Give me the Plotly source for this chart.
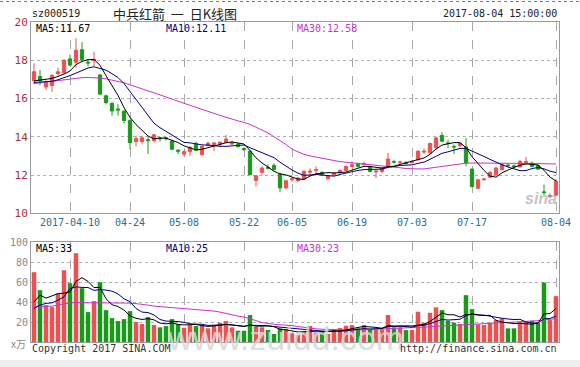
import pandas as pd
import plotly.graph_objects as go

# ---------------- data ----------------
holidays = ["2017-04-03", "2017-04-04", "2017-05-01", "2017-05-29", "2017-05-30"]
dates = [d.strftime("%Y-%m-%d") for d in pd.bdate_range("2017-03-29", "2017-08-04")
         if d.strftime("%Y-%m-%d") not in holidays]

opens = [16.93, 17.15, 16.60, 16.68, 17.30, 17.35, 18.07, 17.90, 18.55, 17.90,
         17.98, 17.23, 16.14, 15.75, 15.45, 15.33, 14.85, 13.75, 13.75, 13.85,
         13.80, 13.95, 13.95, 13.77, 13.30, 13.10, 13.22, 13.63, 13.07, 13.56,
         13.58, 13.62, 13.70, 13.62, 13.62, 13.38, 13.25, 11.72, 12.14, 12.40,
         12.50, 12.05, 11.33, 11.75, 11.70, 11.79, 12.15, 12.25, 12.14, 11.80,
         12.01, 12.14, 12.24, 12.45, 12.59, 12.55, 12.45, 12.17, 12.19, 12.45,
         12.70, 12.65, 12.66, 12.66, 12.80, 13.20, 13.16, 13.42, 14.07, 13.68,
         13.50, 13.54, 13.47, 12.31, 11.31, 11.76, 11.89, 12.01, 12.28, 12.52,
         12.48, 12.42, 12.65, 12.63, 12.50, 11.12, 10.88, 10.95]
highs = [17.85, 17.50, 16.95, 17.30, 17.60, 18.05, 18.30, 19.15, 18.95, 18.07,
         18.45, 17.30, 16.20, 15.80, 15.70, 15.40, 14.90, 14.05, 14.05, 14.00,
         14.15, 14.00, 14.00, 13.85, 13.35, 13.30, 13.50, 13.75, 13.55, 13.75,
         13.72, 13.75, 14.10, 13.80, 13.68, 13.45, 13.30, 12.00, 12.45, 12.55,
         12.62, 12.12, 11.72, 11.90, 11.90, 12.25, 12.35, 12.45, 12.20, 12.00,
         12.15, 12.30, 12.50, 12.72, 12.65, 12.70, 12.50, 12.25, 12.40, 13.16,
         12.80, 12.75, 12.72, 12.80, 13.30, 13.40, 13.70, 14.00, 14.24, 13.85,
         13.60, 13.70, 13.94, 12.35, 11.80, 11.85, 12.20, 12.40, 12.60, 12.60,
         12.55, 12.80, 12.95, 12.70, 12.55, 11.50, 11.05, 11.80]
lows = [16.75, 16.70, 16.45, 16.35, 17.20, 17.30, 17.70, 17.60, 17.90, 17.68,
        17.70, 16.20, 15.70, 15.10, 15.10, 14.70, 13.35, 13.50, 13.60, 13.10,
        13.70, 13.75, 13.80, 13.30, 13.10, 13.00, 13.00, 13.25, 13.00, 13.50,
        13.25, 13.45, 13.68, 13.58, 13.45, 13.25, 12.00, 11.40, 12.00, 12.30,
        12.25, 11.10, 11.25, 11.65, 11.65, 11.75, 11.95, 12.00, 11.95, 11.75,
        11.95, 12.05, 12.20, 12.40, 12.40, 12.50, 12.15, 11.84, 12.10, 12.40,
        12.60, 12.55, 12.55, 12.60, 12.75, 13.10, 13.10, 13.40, 13.70, 13.40,
        13.10, 13.45, 12.45, 11.35, 11.25, 11.70, 11.85, 11.98, 12.25, 12.40,
        12.35, 12.40, 12.60, 12.40, 12.25, 10.95, 10.80, 10.90]
closes = [17.40, 16.93, 16.85, 17.20, 17.40, 18.00, 17.75, 18.52, 18.03, 17.86,
          18.05, 16.23, 15.79, 15.35, 15.40, 14.85, 13.70, 13.90, 13.95, 13.80,
          14.10, 13.90, 13.90, 13.35, 13.25, 13.22, 13.45, 13.30, 13.50, 13.66,
          13.68, 13.72, 13.88, 13.70, 13.48, 13.33, 12.02, 11.96, 12.37, 12.36,
          12.28, 11.33, 11.70, 11.80, 11.84, 12.19, 12.20, 12.28, 12.01, 11.96,
          12.10, 12.24, 12.45, 12.54, 12.45, 12.60, 12.19, 12.21, 12.37, 12.84,
          12.68, 12.68, 12.60, 12.70, 13.24, 13.24, 13.65, 13.94, 13.77, 13.65,
          13.47, 13.65, 12.63, 11.40, 11.75, 11.79, 12.14, 12.37, 12.54, 12.49,
          12.45, 12.71, 12.70, 12.45, 12.31, 11.08, 10.92, 11.68]
volumes = [70, 52, 37, 35, 48.7, 72, 59, 89, 54, 30,
           41, 60, 32, 24, 21, 23, 31, 20, 18, 25,
           17, 14.7, 16, 23, 17.7, 14.3, 17, 16, 17, 13.7,
           17, 19.3, 21, 14.7, 11.3, 11.3, 27, 15.3, 14.7, 12,
           8, 13.7, 12.7, 8.7, 7, 10, 16, 9, 11, 8,
           12, 14, 16.3, 17, 13.7, 17, 12.7, 12.7, 12.7, 27,
           14.7, 14.7, 12, 12, 30.3, 19.3, 29.3, 34.7, 32, 21.3,
           19.3, 18, 47, 33, 17.7, 17, 19.3, 22, 23.7, 13.7,
           13.7, 20.3, 20.3, 21.3, 19.3, 59.7, 22, 46]
ma30_price = [16.78, 16.82, 16.85, 16.90, 16.95, 16.98, 17.02, 17.06, 17.09, 17.10,
              17.10, 17.07, 17.03, 16.97, 16.90, 16.82, 16.72, 16.60, 16.50, 16.40,
              16.30, 16.20, 16.08, 15.97, 15.86, 15.75, 15.64, 15.54, 15.44, 15.33,
              15.23, 15.12, 15.02, 14.91, 14.83, 14.75, 14.65, 14.50, 14.35, 14.20,
              14.00, 13.80, 13.60, 13.35, 13.20, 13.08, 13.00, 12.94, 12.87, 12.80,
              12.75, 12.70, 12.67, 12.64, 12.62, 12.60, 12.57, 12.54, 12.50, 12.45,
              12.42, 12.38, 12.34, 12.32, 12.32, 12.32, 12.36, 12.42, 12.48, 12.52,
              12.56, 12.60, 12.62, 12.63, 12.63, 12.63, 12.63, 12.63, 12.63, 12.63,
              12.63, 12.62, 12.62, 12.61, 12.60, 12.59, 12.58, 12.58]
ma30_vol = [35.5, 35.5, 35.5, 36, 37, 38.5, 39.3, 39.5, 39.5, 39.5,
            39.5, 39.5, 39.4, 39.3, 39.2, 39.1, 39, 38.5, 38, 37,
            36, 35.5, 35, 34.5, 34, 33.5, 33, 32.5, 32.2, 32,
            31, 30, 28.5, 27, 26, 25, 23.5, 21.5, 19.5, 18.5,
            17.8, 17.3, 17, 16.5, 15.5, 14.5, 13.8, 13.2, 12.8, 12.5,
            12.3, 12.1, 12, 12, 12.1, 12.3, 12.5, 12.8, 13.2, 13.6,
            13.9, 14.1, 14.3, 14.5, 14.7, 14.8, 15.2, 15.7, 16.1, 16.4,
            16.7, 16.9, 17.2, 17.6, 17.9, 18.2, 18.6, 19, 19.3, 19.6,
            19.9, 20.2, 20.5, 20.9, 21.4, 22.3, 22.8, 23.3]
# moving-average values before a full window exists
ma5_price_head = [16.92, 16.97, 17.00, 17.05]
ma10_price_head = [16.84, 16.86, 16.88, 16.90, 16.98, 17.07, 17.20, 17.33, 17.45]
ma5_vol_head = [40, 47, 44, 46]
ma10_vol_head = [33.7, 37, 38.7, 39.3, 42, 45.3, 53.7, 55.3, 54.7]

tick_dates = ["2017-04-10", "2017-04-24", "2017-05-08", "2017-05-22", "2017-06-05",
              "2017-06-19", "2017-07-03", "2017-07-17", "2017-08-04"]
tick_text = ["2017-04-10", "04-24", "05-08", "05-22", "06-05",
             "06-19", "07-03", "07-17", "08-04"]
price_ticks = [10, 12, 14, 16, 18, 20]
vol_ticks = [20, 40, 60, 80, 100]


def ma(values, n, head):
    s = pd.Series(values).rolling(n).mean().tolist()
    return list(head) + s[len(head):]


ma5_p = ma(closes, 5, ma5_price_head)
ma10_p = ma(closes, 10, ma10_price_head)
ma5_v = ma(volumes, 5, ma5_vol_head)
ma10_v = ma(volumes, 10, ma10_vol_head)

RED = "#ee5050"
GREEN = "#1a9a1a"
NAVY = "#000080"
MAG = "#cc33cc"
MONO = "DejaVu Sans Mono"

vol_colors = [RED if c >= o else GREEN for o, c in zip(opens, closes)]

fig = go.Figure()
fig.add_trace(go.Candlestick(
    x=dates, open=opens, high=highs, low=lows, close=closes,
    increasing=dict(line=dict(color=RED, width=1), fillcolor=RED),
    decreasing=dict(line=dict(color=GREEN, width=1), fillcolor=GREEN),
    xaxis="x", yaxis="y", showlegend=False, hoverinfo="skip"))
for vals, col in [(ma30_price, MAG), (ma10_p, NAVY), (ma5_p, "#000000")]:
    fig.add_trace(go.Scatter(x=dates, y=vals, mode="lines", line=dict(color=col, width=1),
                             xaxis="x", yaxis="y", showlegend=False, hoverinfo="skip"))

fig.add_trace(go.Bar(x=dates, y=volumes, marker=dict(color=vol_colors, line=dict(width=0)),
                     xaxis="x2", yaxis="y2", showlegend=False, hoverinfo="skip"))
for vals, col in [(ma30_vol, MAG), (ma10_v, NAVY), (ma5_v, "#000000")]:
    fig.add_trace(go.Scatter(x=dates, y=vals, mode="lines", line=dict(color=col, width=1),
                             xaxis="x2", yaxis="y2", showlegend=False, hoverinfo="skip"))

W, H = 580, 367
L, R, T, B = 31, 21, 22, 25
PW, PH = W - L - R, H - T - B


def px(x, y):
    return (x - L) / PW, (H - B - y) / PH


xcommon = dict(type="category", categoryorder="array", categoryarray=dates,
               range=[-0.5, len(dates) - 0.5], tickmode="array", tickvals=tick_dates,
               showgrid=True, gridcolor="#a8a8a8", griddash="dash", gridwidth=1,
               showline=True, mirror=True, linecolor="#9a9a9a", linewidth=1,
               ticks="", zeroline=False, fixedrange=True, automargin=False)

fig.update_layout(
    width=W, height=H, margin=dict(l=L, r=R, t=T, b=B, autoexpand=False),
    paper_bgcolor="white", plot_bgcolor="white", bargap=0.25, boxgap=0.22,
    xaxis=dict(**xcommon, anchor="y", ticktext=tick_text, showticklabels=True,
               tickfont=dict(family=MONO, size=10, color="#2a6f8f"),
               rangeslider=dict(visible=False)),
    yaxis=dict(domain=[(H - B - 213.3) / PH, 1], range=[10, 20], tickmode="array",
               tickvals=price_ticks, ticktext=[str(v) for v in price_ticks],
               tickfont=dict(family=MONO, size=11, color="#a83232"),
               showgrid=True, gridcolor="#b0b0b0", griddash="dot", gridwidth=1,
               showline=True, mirror=True, linecolor="#9a9a9a", zeroline=False,
               ticks="", fixedrange=True, automargin=False),
    xaxis2=dict(**xcommon, anchor="y2", matches="x", showticklabels=False),
    yaxis2=dict(domain=[0, (H - B - 242.3) / PH], range=[0, 100], tickmode="array",
                tickvals=vol_ticks, ticktext=[str(v) for v in vol_ticks],
                tickfont=dict(family=MONO, size=10, color="#8a8a8a"),
                showgrid=True, gridcolor="#b0b0b0", griddash="dot", gridwidth=1,
                showline=True, mirror=True, linecolor="#9a9a9a", zeroline=False,
                ticks="", fixedrange=True, automargin=False),
    hovermode=False,
)

ann = []


def text(x, y, s, size=10, color="#222", anchor="left", family=MONO, **kw):
    ax, ay = px(x, y)
    ann.append(dict(x=ax, y=ay, xref="paper", yref="paper", text=s, showarrow=False,
                    xanchor=anchor, yanchor="middle",
                    font=dict(family=family, size=size, color=color), **kw))


NB = "\u00a0"
text(30, 13, "sz000519", 10, "#222")
text(175, 13, "中兵红箭" + NB * 2 + "一" + NB * 2 + "日K线图", 13, "#222", "center",
     "Noto Sans CJK SC")
text(559, 13, "2017-08-04 15:00:00", 10, "#222", "right")
text(34, 29, "MA5:11.67", 10, "#000000")
text(164, 29, "MA10:12.11", 10, NAVY)
text(295, 29, "MA30:12.58", 10, MAG)
text(34, 248, "MA5:33", 10, "#000000")
text(164, 248, "MA10:25", 10, NAVY)
text(295, 248, "MA30:23", 10, MAG)
text(28, 343, "x万", 10, "#8a8a8a", "right", "Noto Sans CJK SC")
text(285, 338, "www.zuidd.com", 34, "rgba(215,215,215,0.85)", "center", "Liberation Sans")
text(30, 348, "Copyright 2017 SINA.COM", 10, "#333")
text(559, 348, "http://finance.sina.com.cn", 10, "#333", "right")
text(541, 198, "<b><i>sina</i></b>", 16, "rgba(170,170,170,0.7)", "center", "Liberation Sans")
fig.update_layout(annotations=ann)

# top dotted separator and bottom strip
fig.add_shape(type="line", xref="paper", yref="paper",
              x0=px(0, 0)[0], x1=px(W, 0)[0], y0=px(0, 1.5)[1], y1=px(0, 1.5)[1],
              line=dict(color="#777", width=1, dash="dot"))
fig.add_shape(type="rect", xref="paper", yref="paper", layer="below",
              x0=px(0, 0)[0], x1=px(W, 0)[0], y0=px(0, 367)[1], y1=px(0, 360)[1],
              fillcolor="#eeeeee", line=dict(width=0))

fig.write_html("out.html", config={"displayModeBar": False, "staticPlot": True},
               post_script="document.body.style.margin='0';document.body.style.overflow='hidden';")
